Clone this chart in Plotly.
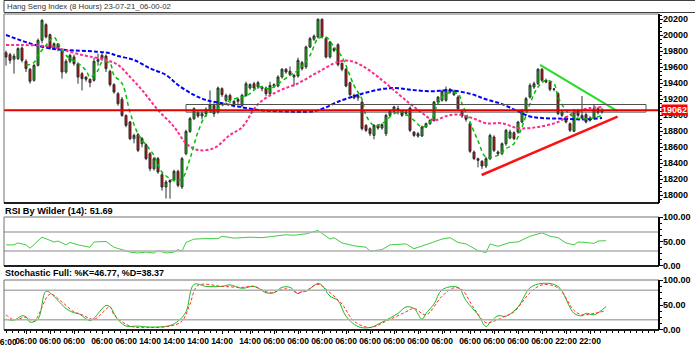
import plotly.graph_objects as go

W, H = 695, 364

title_text = "Hang Seng Index (8 Hours) 23-07-21_06-00-02"
rsi_title = "RSI By Wilder (14): 51.69"
stoch_title = "Stochastic Full: %K=46.77, %D=38.37"
last_price = 19062

opens = [19783,19758,19700,19708,19840,19675,19575,19437,19624,19937,
         20133,20008,19841,19895,19812,19541,19675,19730,19645,19520,
         19478,19450,19437,19675,19708,19741,19550,19383,19270,19200,
         18999,18916,18708,18758,18645,18633,18520,18333,18458,18258,
         18104,18187,18187,18300,18104,18520,18799,18958,19033,18991,
         19020,19062,19124,19041,19333,19187,19249,19175,19199,19124,
         19249,19341,19395,19354,19333,19341,19270,19383,19366,19479,
         19575,19550,19479,19491,19658,19604,19854,19950,19979,20200,
         19958,19729,19833,19883,19650,19575,19408,19249,19220,19166,
         18874,18833,18749,18874,18841,18770,18999,19050,19083,19050,
         19025,19091,18791,18741,18741,18854,18895,18937,19166,19187,
         19187,19324,19300,19228,19050,18991,18895,18541,18458,18425,
         18366,18458,18729,18541,18520,18645,18716,18783,18791,18916,
         19062,19228,19354,19395,19575,19437,19416,19324,19270,18999,
         18979,18895,18800,19050,18999,19008,18937,18966,19083,19040]
highs = [19810,19780,19770,19850,19860,19700,19590,19640,19960,20200,
         20150,20020,19910,19900,19830,19700,19770,19760,19660,19540,
         19490,19460,19720,19770,19790,19760,19570,19400,19290,19230,
         19010,18930,18770,18780,18730,18650,18540,18480,18480,18280,
         18190,18200,18320,18320,18480,18820,18980,19100,19060,19050,
         19100,19310,19150,19360,19350,19270,19270,19190,19220,19270,
         19420,19400,19420,19430,19370,19360,19420,19400,19500,19590,
         19590,19610,19520,19720,19680,19870,19980,20010,20210,20210,
         19980,19930,19850,19900,19660,19590,19420,19270,19270,19190,
         18890,18850,18890,18890,18900,19020,19070,19120,19120,19070,
         19060,19110,18800,18790,18870,18910,18950,19180,19240,19320,
         19360,19340,19320,19250,19070,19000,18910,18560,18470,18440,
         18480,18770,18750,18560,18660,18830,18820,18800,18930,19080,
         19230,19400,19420,19590,19590,19460,19430,19340,19290,19060,
         18990,18910,19080,19080,19240,19030,18990,19130,19100,19090]
lows = [19620,19645,19520,19690,19660,19540,19395,19420,19610,19900,
        19960,19820,19820,19800,19458,19520,19650,19620,19395,19310,
        19420,19350,19420,19620,19680,19540,19360,19270,19120,18980,
        18850,18690,18650,18540,18600,18440,18300,18310,18270,18060,
        17960,17958,18170,18100,18080,18500,18780,18940,18970,18950,
        18980,19040,18980,19020,19230,19160,19150,19100,19130,19100,
        19230,19320,19320,19330,19300,19240,19250,19340,19350,19460,
        19520,19490,19360,19470,19560,19580,19840,19930,19960,19960,
        19710,19710,19790,19610,19550,19350,19240,19200,19180,18810,
        18790,18740,18700,18820,18820,18740,18980,19030,19010,18980,
        18990,18790,18730,18720,18730,18840,18880,18920,19150,19170,
        19170,19270,19240,19060,18970,18920,18530,18440,18350,18330,
        18340,18440,18540,18500,18500,18620,18700,18690,18770,18900,
        19040,19210,19330,19380,19420,19400,19300,19300,19000,18980,
        18900,18790,18790,18980,18950,18900,18920,18950,19010,19020]
closes = [19728,19687,19740,19833,19687,19583,19425,19624,19937,20187,
          19980,19841,19895,19833,19541,19675,19749,19645,19478,19458,
          19450,19408,19675,19695,19749,19583,19383,19291,19145,18999,
          18874,18708,18749,18562,18708,18458,18333,18458,18291,18104,
          18166,18166,18300,18124,18458,18799,18958,19083,18991,19020,
          19075,19133,19020,19341,19258,19249,19187,19145,19175,19249,
          19395,19383,19341,19408,19354,19270,19374,19366,19479,19575,
          19541,19508,19499,19687,19583,19854,19958,19991,20200,19979,
          19729,19916,19812,19633,19575,19366,19258,19216,19245,18833,
          18812,18770,18874,18841,18883,18999,19050,19104,19062,18999,
          19041,18812,18749,18770,18854,18895,18937,19166,19228,19300,
          19324,19291,19258,19083,18991,18950,18550,18458,18437,18366,
          18458,18749,18562,18520,18645,18812,18791,18708,18916,19062,
          19208,19374,19395,19575,19437,19416,19324,19330,19020,19041,
          18916,18812,19041,18999,18966,18916,18966,19083,19033,19062]

fast_ma_bar = [5,7,8,10,12,13,15,18,20,21,23,24,26,27,29,31,33,37,39,42,44,46,48,50,53,56,59,61,63,66,68,71,73,76,78,80,82,84,87,89,90,92,94,97,99,102,104,106,108,110,113,114,116,118,120,123,125,127,129,131,133,135,137,138,140,142,144,146,149]
fast_ma = [19624,19660,19749,19874,19978,19900,19749,19650,19560,19479,19562,19666,19650,19499,19400,19041,18770,18499,18291,18187,18208,18458,18791,18999,19083,19187,19230,19270,19354,19333,19395,19499,19562,19749,19958,19978,19854,19729,19374,19200,18999,18874,18895,19020,19041,18937,18854,18916,19145,19270,19270,19145,18916,18680,18478,18499,18583,18645,18854,19145,19354,19437,19395,19229,19062,18978,18958,18958,18999]

mid_ma_bar = [0,4,11,19,25,28,31,34,38,42,45,48,52,56,59,63,68,73,78,83,86,89,93,98,101,104,107,110,113,117,120,124,128,133,138,142,146,149]
mid_ma = [19879,19879,19858,19754,19691,19629,19480,19316,19066,18858,18650,18566,18591,18754,18850,19140,19300,19400,19540,19668,19680,19620,19480,19270,19145,19030,18937,18990,19010,18958,18900,18900,18840,18854,18916,19030,19090,19100]

slow_ma_bar = [0,6,11,15,23,26,28,32,36,40,43,47,50,54,58,63,68,77,80,83,88,93,97,101,106,111,116,120,124,128,131,134,139,144,149]
slow_ma = [20004,19899,19837,19816,19795,19775,19741,19691,19587,19504,19379,19254,19191,19150,19110,19066,19050,19050,19100,19170,19254,19320,19341,19320,19300,19312,19270,19200,19140,19049,18985,18966,18958,18949,18966]

rsi_bar = [0,2,3,5,6,9,12,13,15,16,18,21,22,25,27,31,33,35,37,38,40,42,43,44,45,47,50,53,54,57,61,64,67,70,72,74,75,78,81,82,84,87,90,91,94,96,100,102,105,109,111,113,115,118,120,121,123,126,128,131,134,136,138,140,142,143,145,147,148,150]
rsi = [43,43,47,43,36,59,49,51,43,48,43,38,49,50,38,28,26,28,26,31,26,28,33,30,48,55,56,56,61,57,59,58,61,64,63,65,66,73,55,58,47,41,38,30,33,43,45,35,43,55,58,48,45,31,27,45,40,48,49,61,68,61,58,47,43,49,48,46,51,51.69]

stoch_k_bar = [0,2,4,5,6,8,10,12,13,15,17,18,21,22,25,26,28,30,33,36,41,43,45,47,50,54,56,59,62,65,67,69,71,73,74,75,78,79,81,83,85,88,91,94,98,100,102,104,105,107,109,113,115,118,120,121,123,125,128,131,134,138,142,144,145,147,150]
stoch_k = [21,19,28,26,15,21,78,68,59,43,34,33,18,23,49,46,20,7,7,5,8,17,36,92,88,88,91,84,88,75,75,86,86,73,79,78,94,90,68,59,27,6,4,15,33,46,43,21,33,52,81,86,59,30,6,14,28,27,46,85,94,88,33,28,33,30,46.77]

stoch_d_bar = [0,2,5,7,11,14,17,19,22,26,27,31,36,41,44,46,48,54,59,62,66,70,73,75,78,81,84,87,91,95,100,102,105,109,112,114,117,120,122,125,127,131,134,138,142,144,147,150]
stoch_d = [30,20,25,17,72,56,36,30,21,46,30,7,4,7,17,52,90,88,86,88,75,83,75,79,92,75,52,17,4,17,36,43,30,68,85,81,43,14,17,28,36,75,91,85,39,30,33,38.37]

rsi_levels = [70, 30]
stoch_levels = [80, 20]

# drawn objects (bar index, price)
box_bars = [45, 160]
box_prices = [19040, 19135]
resist_bars = [133.5, 152.75]
resist_prices = [19629, 19054]
support_bars = [118.9, 152.9]
support_prices = [18254, 18983]

tick_bars = [0,5,11,17,24,30,36,42,48,54,61,67,73,79,85,91,97,103,109,116,122,128,134,140,146]
tick_text = ["06:00"]*6 + ["14:00"]*5 + ["06:00"]*12 + ["22:00"]*2

price_ticks = list(range(18000, 20201, 200))
osc_ticks = [0, 50, 100]
osc_text = ["0.00", "50.00", "100.00"]

# ---------------- layout geometry ----------------
def px_x(p):
    return p / W

def px_y(p):
    return 1 - p / H

xdom = [px_x(4), px_x(659)]
xr = [-0.5, 163.25]
FONT = "Liberation Sans, Arial, sans-serif"
LBL_X = px_x(662)

fig = go.Figure()
x_idx = list(range(len(opens)))

fig.add_trace(go.Candlestick(
    x=x_idx, open=opens, high=highs, low=lows, close=closes,
    increasing=dict(line=dict(color="#303030", width=1), fillcolor="#00c800"),
    decreasing=dict(line=dict(color="#303030", width=1), fillcolor="#e00000"),
    whiskerwidth=0, xaxis="x", yaxis="y", showlegend=False))

fig.add_trace(go.Scatter(x=slow_ma_bar, y=slow_ma, mode="lines", line=dict(color="#0000ff", width=2, dash="4px,2px", shape="spline"), xaxis="x", yaxis="y", showlegend=False))
fig.add_trace(go.Scatter(x=mid_ma_bar, y=mid_ma, mode="lines", line=dict(color="#ff2a8a", width=2, dash="3px,2px", shape="spline"), xaxis="x", yaxis="y", showlegend=False))
fig.add_trace(go.Scatter(x=fast_ma_bar, y=fast_ma, mode="lines", line=dict(color="#00c000", width=1.5, dash="4px,3px", shape="spline"), xaxis="x", yaxis="y", showlegend=False))

fig.add_trace(go.Scatter(x=resist_bars, y=resist_prices, mode="lines", line=dict(color="#22dd22", width=2), xaxis="x", yaxis="y", showlegend=False))
fig.add_trace(go.Scatter(x=support_bars, y=support_prices, mode="lines", line=dict(color="#ff1010", width=2.5), xaxis="x", yaxis="y", showlegend=False))

fig.add_trace(go.Scatter(x=rsi_bar, y=rsi, mode="lines", line=dict(color="#44cc44", width=1), xaxis="x2", yaxis="y2", showlegend=False))
fig.add_trace(go.Scatter(x=stoch_k_bar, y=stoch_k, mode="lines", line=dict(color="#22bb22", width=1, shape="spline"), xaxis="x3", yaxis="y3", showlegend=False))
fig.add_trace(go.Scatter(x=stoch_d_bar, y=stoch_d, mode="lines", line=dict(color="#ff3030", width=1, dash="3px,2px", shape="spline"), xaxis="x3", yaxis="y3", showlegend=False))

shapes = []
shapes.append(dict(type="line", xref="x domain", yref="y", x0=0, x1=1, y0=last_price, y1=last_price, line=dict(color="#e00000", width=2)))
shapes.append(dict(type="rect", xref="x", yref="y", x0=box_bars[0], x1=box_bars[1], y0=box_prices[0], y1=box_prices[1], line=dict(color="#505050", width=1)))
for lv in rsi_levels:
    shapes.append(dict(type="line", xref="x2 domain", yref="y2", x0=0, x1=1, y0=lv, y1=lv, line=dict(color="#b0b0b0", width=1.5)))
for lv in stoch_levels:
    shapes.append(dict(type="line", xref="x3 domain", yref="y3", x0=0, x1=1, y0=lv, y1=lv, line=dict(color="#b0b0b0", width=1.5)))
for xa, ya in [("x", "y"), ("x2", "y2"), ("x3", "y3")]:
    shapes.append(dict(type="rect", xref=xa + " domain", yref=ya + " domain", x0=0, x1=1, y0=0, y1=1, line=dict(color="#707070", width=1)))
    shapes.append(dict(type="line", xref=xa + " domain", yref=ya + " domain", x0=0, x1=1, y0=0, y1=0, line=dict(color="#202020", width=2)))
    shapes.append(dict(type="line", xref=xa + " domain", yref=ya + " domain", x0=1, x1=1, y0=0, y1=1, line=dict(color="#000000", width=2)))
shapes.append(dict(type="rect", xref="paper", yref="paper", x0=px_x(4), x1=px_x(700), y0=px_y(12.5), y1=px_y(0.5), line=dict(color="#404040", width=1)))

lblfont = dict(family=FONT, size=9, color="#000000")
annotations = [
    dict(text=title_text, xref="paper", yref="paper", x=px_x(5), y=px_y(6.5), xanchor="left", yanchor="middle", showarrow=False, font=dict(family=FONT, size=7.8, color="#333333")),
    dict(text="<b>" + rsi_title + "</b>", xref="paper", yref="paper", x=px_x(3), y=px_y(211), xanchor="left", yanchor="middle", showarrow=False, font=dict(family=FONT, size=9.2, color="#000000")),
    dict(text="<b>" + stoch_title + "</b>", xref="paper", yref="paper", x=px_x(3), y=px_y(273), xanchor="left", yanchor="middle", showarrow=False, font=dict(family=FONT, size=9, color="#000000")),
    dict(text="<b>" + tick_text[0] + "</b>", xref="x3", yref="paper", x=tick_bars[0], y=px_y(342), xanchor="center", yanchor="middle", showarrow=False, font=dict(family=FONT, size=8.5, color="#000000")),
]
for v in price_ticks:
    annotations.append(dict(text="<b>%d</b>" % v, xref="paper", yref="y", x=LBL_X, y=v, xanchor="left", yanchor="middle", showarrow=False, font=lblfont, borderpad=0))
for ya in ["y2", "y3"]:
    for v, t in zip(osc_ticks, osc_text):
        annotations.append(dict(text="<b>%s</b>" % t, xref="paper", yref=ya, x=LBL_X, y=v, xanchor="left", yanchor="middle", showarrow=False, font=lblfont, borderpad=0))
annotations.append(dict(text="<b>" + str(last_price) + "</b>", xref="paper", yref="y", x=px_x(661), y=last_price, xanchor="left", yanchor="middle", showarrow=False, bgcolor="#ff0000", borderpad=0, font=dict(family=FONT, size=9, color="#ffffff")))

common_x = dict(range=xr, domain=xdom, showgrid=False, zeroline=False, showline=False, fixedrange=True)

def yax(dom, rng, vals, minor_dt, anchor):
    return dict(domain=dom, range=rng, side="right", anchor=anchor,
                tickmode="array", tickvals=vals, showticklabels=False,
                ticks="outside", ticklen=3, tickcolor="#000000",
                minor=dict(ticks="outside", ticklen=2, dtick=minor_dt, tickcolor="#000000"),
                showgrid=False, zeroline=False, fixedrange=True)

fig.update_layout(
    width=W, height=H, margin=dict(l=0, r=0, t=0, b=0),
    paper_bgcolor="#ffffff", plot_bgcolor="#ffffff",
    showlegend=False,
    xaxis=dict(**common_x, anchor="y", showticklabels=False, ticks="", rangeslider=dict(visible=False)),
    xaxis2=dict(**common_x, anchor="y2", showticklabels=False, ticks="", matches="x"),
    xaxis3=dict(**common_x, anchor="y3", tickmode="array", tickvals=tick_bars[1:],
                ticktext=["<b>%s</b>" % t for t in tick_text[1:]], tickangle=0,
                ticks="outside", ticklen=3, tickcolor="#000000", tickfont=dict(family=FONT, size=8.5, color="#000000"),
                minor=dict(ticks="outside", ticklen=2, dtick=1.5, tick0=0, tickcolor="#000000"), matches="x"),
    yaxis=yax([px_y(203), px_y(14)], [17904, 20266], price_ticks, 50, "x"),
    yaxis2=yax([px_y(266), px_y(217)], [-1, 101], osc_ticks, 12.5, "x2"),
    yaxis3=yax([px_y(330), px_y(280)], [-1, 101], osc_ticks, 12.5, "x3"),
    shapes=shapes, annotations=annotations,
)

fig.write_html("out.html", config={"displayModeBar": False},
               post_script="document.body.style.margin='0';document.body.style.padding='0';document.body.style.overflow='hidden';")
